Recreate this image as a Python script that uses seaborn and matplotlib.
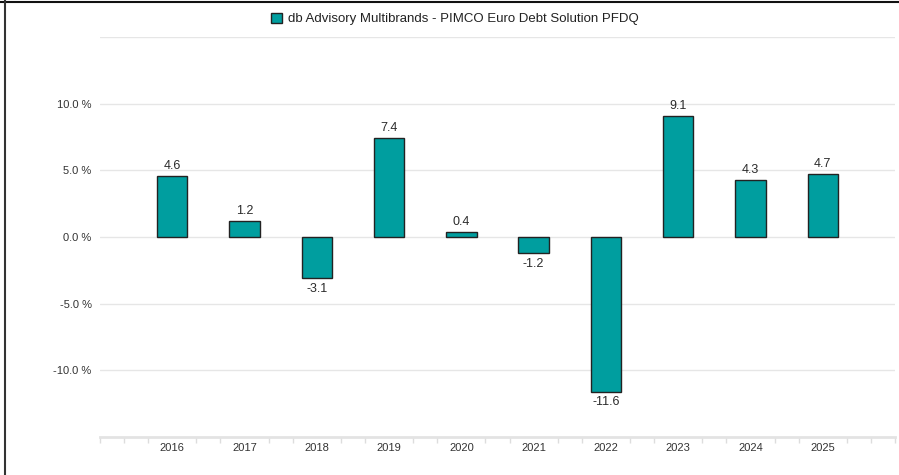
import numpy as np
import pandas as pd
import matplotlib
matplotlib.use("Agg")
import matplotlib.pyplot as plt
import seaborn as sns
from matplotlib.ticker import FixedLocator
from matplotlib.lines import Line2D

years = ["2016", "2017", "2018", "2019", "2020", "2021", "2022", "2023", "2024", "2025"]
returns = [4.6, 1.2, -3.1, 7.4, 0.4, -1.2, -11.6, 9.1, 4.3, 4.7]
series_name = "db Advisory Multibrands - PIMCO Euro Debt Solution PFDQ"
ytick_vals = [-10, -5, 0, 5, 10, 15]

bar_color = "#009e9f"

sns.set_theme(style="white")
plt.rcParams['font.family'] = ['Liberation Sans', 'DejaVu Sans']

df = pd.DataFrame({"Year": years, "Return": returns, "Fund": series_name})

fig = plt.figure(figsize=(8.99, 4.75), dpi=100)
ax = fig.add_axes([100 / 899, 1 - 437 / 475, 795 / 899, 400 / 475])

sns.barplot(data=df, x="Year", y="Return", hue="Fund", palette=[bar_color],
            saturation=1, width=0.42, edgecolor="#222222", linewidth=1,
            ax=ax, legend=False, zorder=3)

ax.set_xlim(-1, 10)
ax.set_ylim(-15, 15)
ax.set_xlabel("")
ax.set_ylabel("")

# y axis: gridlines, labels
ax.set_yticks(ytick_vals)
ax.set_yticklabels([f"{v:.1f} %" if v != 15 else "" for v in ytick_vals],
                   fontsize=8, color="#333333")
ax.yaxis.grid(True, color="#e6e6e6", linewidth=1, zorder=0)
ax.tick_params(axis="y", length=0, pad=6)

# x axis: labels at categories, small ticks in between
ax.tick_params(axis="x", which="major", length=0, labelsize=8,
               labelcolor="#333333", pad=4)
minor = [k / 3 for k in range(-3, 31) if not (k % 3 == 0 and 0 <= k // 3 <= 9)]
ax.xaxis.set_minor_locator(FixedLocator(minor))
ax.tick_params(axis="x", which="minor", length=4, width=1, color="#dddddd",
               bottom=True)

for side in ["top", "right", "left"]:
    ax.spines[side].set_visible(False)
ax.spines["bottom"].set_color("#e3e3e3")
ax.spines["bottom"].set_linewidth(2)

# value labels
for i, v in enumerate(returns):
    if v >= 0:
        ax.text(i, v + 0.3, f"{v:.1f}", ha="center", va="bottom",
                fontsize=9, color="#2a2a2a")
    else:
        ax.text(i, v - 0.35, f"{v:.1f}", ha="center", va="top",
                fontsize=9, color="#2a2a2a")

# legend
handle = plt.Rectangle((0, 0), 1, 1, facecolor=bar_color, edgecolor="#222222",
                       linewidth=1)
fig.legend([handle], [series_name], loc="center", bbox_to_anchor=(455 / 899, 1 - 19 / 475),
           frameon=False, fontsize=9.5, handlelength=0.8, handleheight=0.8,
           handletextpad=0.5, labelcolor="#222222")

# outer frame lines (top and left)
fig.add_artist(Line2D([0, 1], [1 - 1.5 / 475, 1 - 1.5 / 475], color="#111111",
                      linewidth=1.5, transform=fig.transFigure))
fig.add_artist(Line2D([4.5 / 899, 4.5 / 899], [0, 1], color="#333333",
                      linewidth=1.5, transform=fig.transFigure))

fig.savefig("out.png", dpi=100)
